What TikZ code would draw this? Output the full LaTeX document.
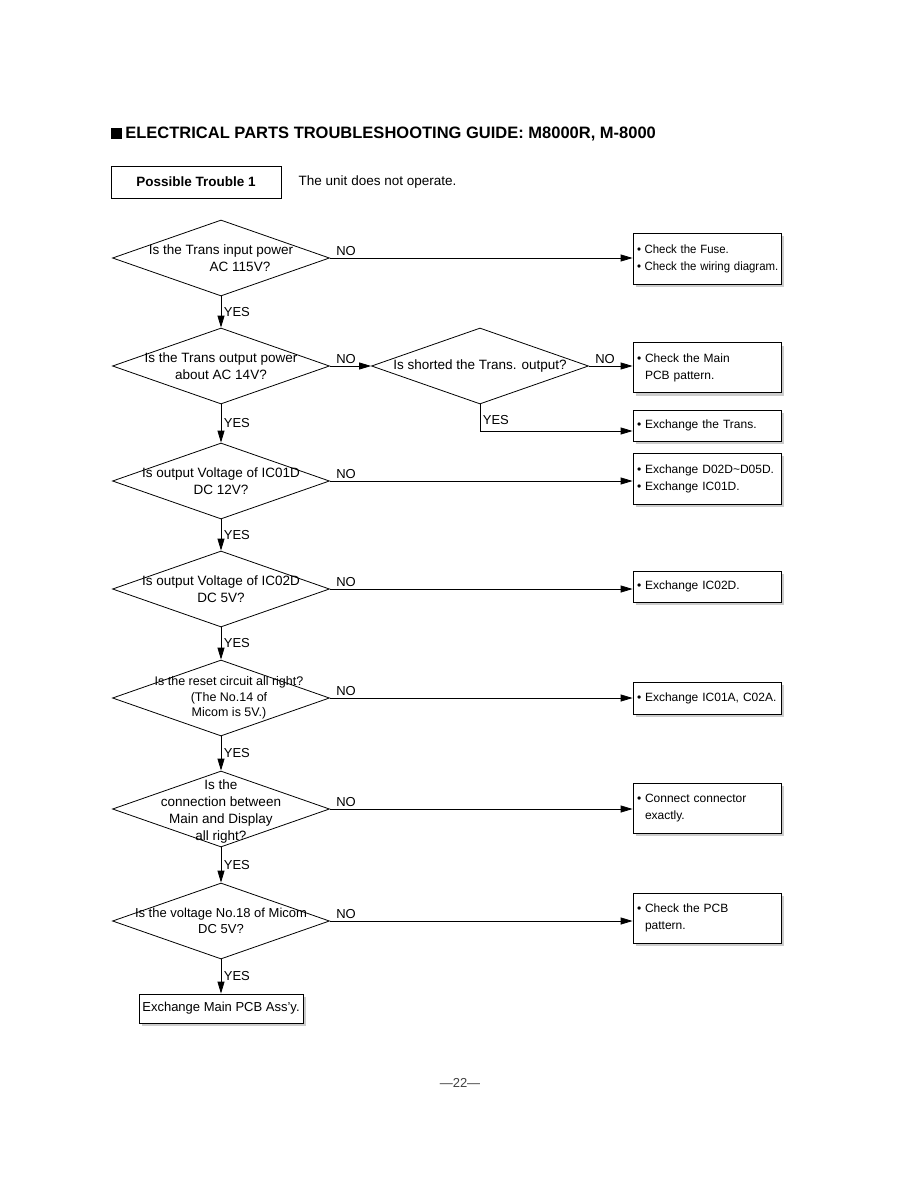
\documentclass[tikz,border=0pt]{standalone}
\usepackage{fontspec}
\setmainfont{Liberation Sans}
\usetikzlibrary{shapes.geometric,arrows.meta,shadows}

\begin{document}
\begin{tikzpicture}[x=1pt, y=-1pt, line width=0.8pt,
    ask/.style={draw, diamond, minimum width=217pt, minimum height=76pt, inner sep=0pt},
    asktext/.style={align=center, inner sep=0pt, font=\fontsize{13.5}{16.5}\selectfont},
    fix/.style={draw, fill=white, minimum width=148pt, text width=140pt, align=left, inner sep=4pt,
      font=\fontsize{12}{17}\selectfont,
      drop shadow={shadow xshift=3pt, shadow yshift=-3pt, fill=black!40}},
    flow/.style={-{Triangle[length=12pt, width=7pt]}},
    yes/.style={anchor=west, xshift=1.5pt, inner sep=1pt, font=\fontsize{13}{13}\selectfont},
    no/.style={anchor=south west, xshift=5pt, yshift=1pt, inner sep=1pt, font=\fontsize{13}{13}\selectfont}]

    \useasboundingbox (0,0) rectangle (918,1188);
    \def\bul{\makebox[8pt][l]{•}}

    \node[fill=black, minimum size=11pt, inner sep=0pt] (mark) at (116,134) {};
    \node[anchor=west, inner sep=0pt, font=\fontsize{16.5}{16.5}\selectfont\bfseries] (title) at (125,134)
      {ELECTRICAL PARTS TROUBLESHOOTING GUIDE: M8000R, M-8000};

    \node[draw, minimum width=170pt, minimum height=32pt, font=\fontsize{13.5}{13.5}\selectfont\bfseries] (trouble) at (196,182) {Possible Trouble 1};
    \node[anchor=west, font=\fontsize{13.5}{13.5}\selectfont] (symptom) at (295,182) {The unit does not operate.};

    % questions
    \node[ask] (q1) at (221,258) {};
    \node[ask] (q2) at (221,366) {};
    \node[ask] (qs) at (480,366) {};
    \node[ask] (q3) at (221,481) {};
    \node[ask] (q4) at (221,589) {};
    \node[ask] (q5) at (221,698) {};
    \node[ask] (q6) at (221,809) {};
    \node[ask] (q7) at (221,921) {};

    \node[asktext] (t1) at (q1) {Is the Trans input power\\\hspace*{38pt}AC 115V?};
    \node[asktext] (t2) at (q2) {Is the Trans output power\\about AC 14V?};
    \node[asktext] (ts) at (qs) {Is shorted the Trans. output?};
    \node[asktext] (t3) at (q3) {Is output Voltage of IC01D\\DC 12V?};
    \node[asktext] (t4) at (q4) {Is output Voltage of IC02D\\DC 5V?};
    \node[asktext, xshift=8pt, font=\fontsize{12.5}{15.5}\selectfont] (t5) at (q5) {Is the reset circuit all right?\\(The No.14 of\\Micom is 5V.)};
    \node[asktext, yshift=-2pt, font=\fontsize{13.5}{17}\selectfont] (t6) at (q6) {Is the\\connection between\\Main and Display\\all right?};
    \node[asktext, font=\fontsize{13}{16.5}\selectfont] (t7) at (q7) {Is the voltage No.18 of Micom\\DC 5V?};

    % remedies
    \node[fix, minimum height=51pt] (f1) at (707,258.5) {\scalebox{0.95}[1]{\bul Check the Fuse.}\\\scalebox{0.95}[1]{\bul Check the wiring diagram.}};
    \node[fix, minimum height=50pt] (fs) at (707,367.5) {\bul Check the Main\\\hspace*{8pt}PCB pattern.};
    \node[fix, minimum height=31pt] (ft) at (707,425.5) {\bul Exchange the Trans.};
    \node[fix, minimum height=51pt] (f3) at (707,478.5) {\bul Exchange D02D\textasciitilde D05D.\\\bul Exchange IC01D.};
    \node[fix, minimum height=31pt] (f4) at (707,586.5) {\bul Exchange IC02D.};
    \node[fix, minimum height=32pt] (f5) at (707,698) {\bul Exchange IC01A, C02A.};
    \node[fix, minimum height=50pt] (f6) at (707,808) {\bul Connect connector\\\hspace*{8pt}exactly.};
    \node[fix, minimum height=50pt] (f7) at (707,918) {\bul Check the PCB\\\hspace*{8pt}pattern.};

    \node[draw, fill=white, minimum width=164pt, minimum height=29pt, inner sep=1pt,
      font=\fontsize{13}{13}\selectfont,
      drop shadow={shadow xshift=3pt, shadow yshift=-3pt, fill=black!40}] (last) at (221,1008.5) {Exchange Main PCB Ass'y.};

    % connectors
    \foreach \i/\j in {1/2,2/3,3/4,4/5,5/6,6/7}
      \draw[flow] (q\i.south) -- (q\j.north) node[yes, midway] {YES};
    \draw[flow] (q7.south) -- (last.north) node[yes, midway] {YES};

    \foreach \i in {1,3,4,5,6,7}
      \draw[flow] (q\i.east) -- (q\i.east -| f\i.west) node[no, at start] {NO};
    \draw[flow] (q2.east) -- (qs.west) node[no, at start] {NO};
    \draw[flow] (qs.east) -- (qs.east -| fs.west) node[no, at start] {NO};
    \draw[flow] (qs.south) |- ([yshift=-5.5pt]ft.west) node[yes, pos=0.3] {YES};

    \node[text=black!75, font=\fontsize{13}{13}\selectfont] (page) at (460,1083) {—22—};

  \end{tikzpicture}
\end{document}
